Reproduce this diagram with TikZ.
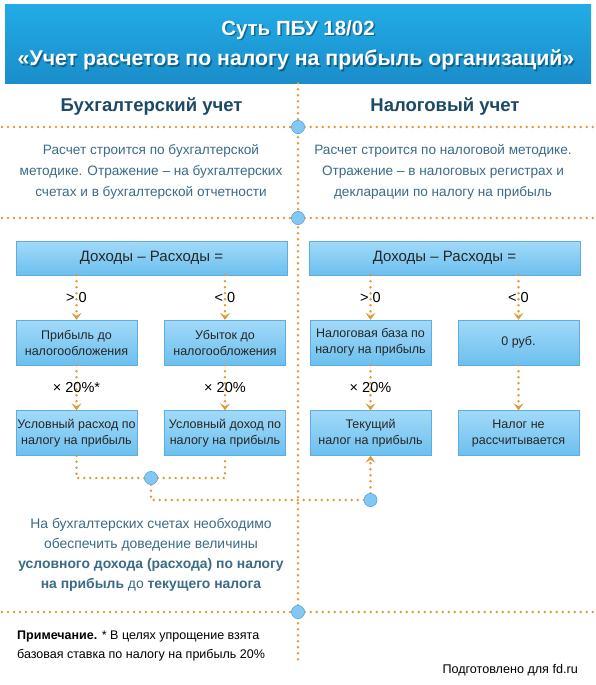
\documentclass[tikz,border=0pt]{standalone}
\usepackage{fontspec}
\setmainfont{Liberation Sans}
\usetikzlibrary{arrows.meta}
\definecolor{hdrtop}{HTML}{22ABE6}
\definecolor{hdrbot}{HTML}{1A8ECB}
\definecolor{boxtop}{HTML}{A2DAF9}
\definecolor{boxbot}{HTML}{6CBFEE}
\definecolor{boxline}{HTML}{5BAEE0}
\definecolor{linkor}{HTML}{E29A36}
\definecolor{dotfill}{HTML}{82C8F3}
\definecolor{dotline}{HTML}{4FA3DC}
\definecolor{headc}{HTML}{1C4965}
\definecolor{descc}{HTML}{3B6B86}

\begin{document}
\begin{tikzpicture}[x=1pt,y=-1pt]
 \tikzset{box/.style = {draw=boxline, top color=boxtop, bottom color=boxbot, align=center, inner sep=1pt, text=black!85, font=\fontsize{12.5}{16}\selectfont}}
 \tikzset{link/.style = {draw=linkor, line width=2.7pt, line cap=round, dash pattern=on 0pt off 6pt}}
 \tikzset{edge/.style = {link, -{Stealth[length=7pt,width=10pt,inset=3pt]}}}
 \tikzset{joint/.style = {shape=circle, draw=dotline, fill=dotfill, minimum size=13pt, inner sep=0pt}}
 \tikzset{desc/.style = {align=center, text=descc, font=\fontsize{13.6}{21}\selectfont}}
 \tikzset{lbl/.style = {font=\fontsize{14.5}{16}\selectfont}}
 \tikzset{ttl/.style = {text=white, font=\bfseries}}
 \useasboundingbox[fill=white] (0,0) rectangle (595,685);

 % header
 \node[draw=none, top color=hdrtop, bottom color=hdrbot, minimum width=586pt, minimum height=78pt] (hdr) at (298,44) {};
 \node[ttl, text=black, opacity=0.35, font=\fontsize{20.5}{24}\bfseries] at (299.5,31.5) {Суть ПБУ 18/02};
 \node[ttl, text=black, opacity=0.35, font=\fontsize{21.3}{24}\bfseries] at (297.5,61.5) {«Учет расчетов по налогу на прибыль организаций»};
 \node[ttl, font=\fontsize{20.5}{24}\bfseries] (t1) at (298,30) {Суть ПБУ 18/02};
 \node[ttl, font=\fontsize{21.3}{24}\bfseries] (t2) at (296,60) {«Учет расчетов по налогу на прибыль организаций»};

 % dividers
 \coordinate (vend) at (298,665);
 \draw[link] (hdr.south) -- (vend);
 \node[joint] (c1) at (298,127) {};
 \node[joint] (c2) at (298,218) {};
 \node[joint] (c3) at (298,612) {};
 \coordinate (l1) at (2,127);  \coordinate (r1) at (593,127);
 \coordinate (l2) at (2,218);  \coordinate (r2) at (593,218);
 \coordinate (l3) at (2,612);  \coordinate (r3) at (593,612);
 \draw[link] (l1) -- (c1) -- (r1);
 \draw[link] (l2) -- (c2) -- (r2);
 \draw[link] (l3) -- (c3) -- (r3);
 \node[joint] at (c1) {};
 \node[joint] at (c2) {};
 \node[joint] at (c3) {};

 % headings and text
 \node[text=headc, font=\fontsize{18.5}{22}\bfseries] (hb) at (151.5,107) {Бухгалтерский учет};
 \node[text=headc, font=\fontsize{18.5}{22}\bfseries] (hn) at (445,107) {Налоговый учет};
 \node[desc] (db) at (151,172) {Расчет строится по бухгалтерской\\методике. Отражение -- на бухгалтерских\\счетах и в бухгалтерской отчетности};
 \node[desc] (dn) at (443,172) {Расчет строится по налоговой методике.\\Отражение -- в налоговых регистрах и\\декларации по налогу на прибыль};

 % boxes
 \node[box, minimum width=271pt, minimum height=34pt, font=\fontsize{15}{18}\selectfont] (drb) at (151.5,258) {Доходы -- Расходы =};
 \node[box, minimum width=271pt, minimum height=34pt, font=\fontsize{15}{18}\selectfont] (drn) at (444.5,258) {Доходы -- Расходы =};
 \node[box, minimum width=121pt, minimum height=45pt] (pr) at (76.5,342.5) {Прибыль до\\налогообложения};
 \node[box, minimum width=121pt, minimum height=45pt] (ub) at (225,342.5) {Убыток до\\налогообложения};
 \node[box, minimum width=121pt, minimum height=45pt] (nb) at (370.5,342.5) {Налоговая база по\\налогу на прибыль};
 \node[box, minimum width=121pt, minimum height=45pt] (zr) at (518.5,342.5) {0 руб.};
 \node[box, minimum width=121pt, minimum height=45pt] (ur) at (76.5,433) {Условный расход по\\налогу на прибыль};
 \node[box, minimum width=121pt, minimum height=45pt] (ud) at (225,433) {Условный доход по\\налогу на прибыль};
 \node[box, minimum width=121pt, minimum height=45pt] (tn) at (370.5,433) {Текущий\\налог на прибыль};
 \node[box, minimum width=121pt, minimum height=45pt] (nn) at (518.5,433) {Налог не\\рассчитывается};

 % edges
 \draw[edge] (drb.south -| pr.north) to node[lbl] {> 0} (pr.north);
 \draw[edge] (drb.south -| ub.north) to node[lbl] {< 0} (ub.north);
 \draw[edge] (drn.south -| nb.north) to node[lbl] {> 0} (nb.north);
 \draw[edge] (drn.south -| zr.north) to node[lbl] {< 0} (zr.north);
 \draw[edge] (pr) to node[lbl] {× 20\%*} (ur);
 \draw[edge] (ub) to node[lbl] {× 20\%} (ud);
 \draw[edge] (nb) to node[lbl] {× 20\%} (tn);
 \draw[edge] (zr) to (nn);

 % joining
 \node[joint] (j1) at (151,478) {};
 \node[joint] (j2) at (370.5,500) {};
 \draw[link] (ur.south) |- (j1);
 \draw[link] (j1) -| (ud.south);
 \draw[link] (j1) |- (j2);
 \draw[edge] (j2) -- (tn.south);
 \node[joint] at (j1) {};
 \node[joint] at (j2) {};

 % notes
 \node[desc, font=\fontsize{13.9}{20}\selectfont] (nt) at (151,555) {На бухгалтерских счетах необходимо\\обеспечить доведение величины\\\textbf{условного дохода (расхода) по налогу}\\\textbf{на прибыль} до \textbf{текущего налога}};
 \node[align=left, anchor=west, font=\fontsize{12.5}{18.5}\selectfont, inner sep=0pt] (pm) at (17,646) {\textbf{Примечание.} * В целях упрощение взята\\базовая ставка по налогу на прибыль 20\%};
 \node[anchor=east, font=\fontsize{12.6}{15}\selectfont, inner sep=0pt] (fd) at (578,670) {Подготовлено для fd.ru};
\end{tikzpicture}
\end{document}
